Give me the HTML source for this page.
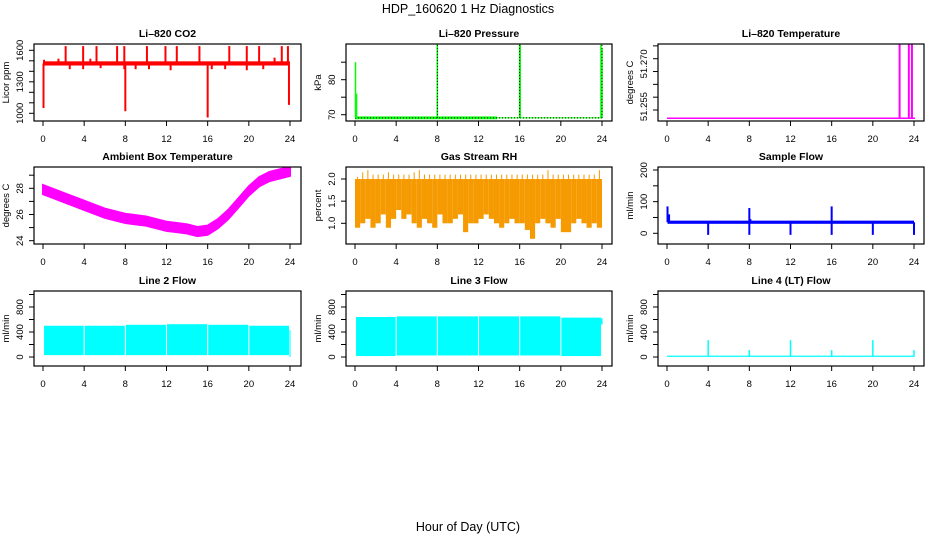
<!DOCTYPE html>
<html><head><meta charset="utf-8"><style>
html,body{margin:0;padding:0;background:#fff}
svg{display:block;font-family:"Liberation Sans",Arial,sans-serif}
</style></head><body>
<svg id="c" width="936" height="540" viewBox="0 0 936 540" xmlns="http://www.w3.org/2000/svg">
<text x="468" y="13" text-anchor="middle" font-size="12.5">HDP_160620  1 Hz Diagnostics</text>
<text x="468" y="531" text-anchor="middle" font-size="12.5">Hour of Day (UTC)</text>
</svg>
<script>
// ---- data ----
const hourTicks = [0,4,8,12,16,20,24];
// CO2
const co2BaseLow = 1455, co2BaseHigh = 1495;
const co2UpHours = [0.1,1.5,2.2,3.9,4.6,5.2,7.2,7.9,10.1,11.9,13.0,15.2,18.1,19.8,21.0,22.5,23.2,23.8];
const co2UpValues = [1510,1520,1640,1640,1520,1640,1640,1640,1640,1640,1640,1640,1640,1640,1640,1530,1640,1640];
const co2DownHours = [0.05,2.6,3.9,5.6,7.9,8.0,9.0,10.3,12.4,16.0,16.4,17.7,19.8,21.4,23.9];
const co2DownValues = [1050,1420,1420,1430,1420,1020,1420,1420,1410,960,1420,1420,1410,1420,1080];
// Pressure
const presBase = 69.1;
const presSpikeHours = [0.05,0.15,8.0,16.0,16.05,23.9,24.0];
const presSpikeValues = [85,76,90,90,90,90,89];
// Li-820 temperature
const tempBase = 51.2526;
const tempSpikeHours = [22.6,23.5,23.8];
const tempSpikeValues = [51.2775,51.2775,51.2775];
// Ambient box temperature (hourly centre)
const ambHours = [0,1,2,3,4,5,6,7,8,9,10,11,12,13,14,15,16,17,18,19,20,21,22,23,24];
const ambValues = [27.9,27.6,27.3,27.0,26.7,26.4,26.1,25.9,25.7,25.6,25.5,25.3,25.1,25.0,24.9,24.7,24.8,25.3,26.0,26.9,27.8,28.5,28.9,29.1,29.3];
const ambHalfWidth = 0.35;
// Gas stream RH (half-hour bins)
const rhLow = [0.9,1.0,1.1,0.9,1.0,1.2,0.9,1.1,1.3,1.1,1.2,1.0,0.9,1.1,1.0,0.9,1.2,1.0,1.0,1.1,1.2,0.8,1.0,1.0,1.1,1.2,1.1,1.0,0.9,1.0,1.1,1.0,1.0,0.85,0.65,1.0,1.1,1.0,0.9,1.1,0.8,0.8,1.0,1.1,1.0,0.9,1.0,0.9];
const rhHigh = [2.05,2.15,2.2,2.1,2.1,2.1,2.15,2.1,2.1,2.1,2.1,2.15,2.2,2.1,2.1,2.1,2.1,2.1,2.1,2.1,2.1,2.1,2.1,2.1,2.1,2.1,2.1,2.1,2.1,2.1,2.1,2.1,2.1,2.1,2.1,2.1,2.1,2.2,2.1,2.1,2.1,2.1,2.1,2.1,2.1,2.1,2.1,2.2];
// Sample flow
const sfLow = 30, sfHigh = 40;
const sfUpHours = [0.05,0.2,8.0,8.1,16.0];
const sfUpValues = [85,60,80,45,85];
const sfDownHours = [4,8,12,16,20,24];
const sfDownValues = [-5,-5,-5,-5,-5,-5];
// Line flows (4-hour segments)
const segStarts = [0.1,4.05,8.05,12.05,16.05,20.05];
const segEnds = [3.95,7.95,11.95,15.95,19.95,23.9];
const line2Top = [500,500,515,525,515,500];
const line2Low = [30,30,30,30,30,30];
const line3Top = [640,650,650,650,650,630];
const line3Low = [15,25,25,25,25,15];
const line4Base = 12;
const line4SpikeHours = [4,8,12,16,20,24];
const line4SpikeValues = [270,110,270,110,270,110];

// ---- drawing ----
const svg = document.getElementById('c');
const NS = 'http://www.w3.org/2000/svg';
function mk(tag, attrs, parent){
  const e = document.createElementNS(NS, tag);
  for (const k in attrs) e.setAttribute(k, attrs[k]);
  (parent||svg).appendChild(e);
  return e;
}
function panel(p){
  const g = mk('g', {});
  
  
  const sx = h => p.x0 + (h/24)*(p.x24 - p.x0);
  const sy = v => p.ya + (v - p.va)*(p.yb - p.ya)/(p.vb - p.va);
  p.sx = sx; p.sy = sy; p.g = g;
  const t = mk('text', {x:(p.L+p.R)/2, y:p.T-7, 'text-anchor':'middle', 'font-size':10.5, 'font-weight':'bold'}, g);
  t.textContent = p.title;
  
  
  const xa = mk('g', {}, g);
  
  
  mk('line', {x1:sx(0), x2:sx(24), y1:p.B, y2:p.B, stroke:'#000'}, xa);
  hourTicks.forEach(h => {
    mk('line', {x1:sx(h), x2:sx(h), y1:p.B, y2:p.B+5, stroke:'#000'}, xa);
    const l = mk('text', {x:sx(h), y:p.B+21, 'text-anchor':'middle', 'font-size':9.5}, xa);
    l.textContent = h;
    
    
  });
  const ya = mk('g', {}, g);
  
  
  const tmin = Math.min(...p.ticks.map(sy)), tmax = Math.max(...p.ticks.map(sy));
  mk('line', {x1:p.L, x2:p.L, y1:tmin, y2:tmax, stroke:'#000'}, ya);
  p.ticks.forEach(v => mk('line', {x1:p.L-5, x2:p.L, y1:sy(v), y2:sy(v), stroke:'#000'}, ya));
  p.labels.forEach((v,i) => {
    const yy = sy(v), xx = p.L - 11;
    const l = mk('text', {x:xx, y:yy, 'text-anchor':'middle', 'font-size':9.5, transform:`rotate(-90 ${xx} ${yy})`}, ya);
    l.textContent = p.labelText ? p.labelText[i] : v;
    
    
  });
  const yl = p.L - 25, ym = (p.T+p.B)/2;
  const yt = mk('text', {x:yl, y:ym, 'text-anchor':'middle', 'font-size':9.5, transform:`rotate(-90 ${yl} ${ym})`}, g);
  yt.textContent = p.ylab;
  
  
  const clip = 'clip' + p.name;
  const cp = mk('clipPath', {id:clip}, g);
  mk('rect', {x:p.L, y:p.T, width:p.R-p.L, height:p.B-p.T}, cp);
  p.plot = mk('g', {'clip-path':`url(#${clip})`}, g);
  
  
  const box = mk('rect', {x:p.L, y:p.T, width:p.R-p.L, height:p.B-p.T, fill:'none', stroke:'#000', 'stroke-width':1.2}, g);
  
  
  return p;
}
function vline(p, h, v1, v2, col, w, name){
  const l = mk('line', {x1:p.sx(h), x2:p.sx(h), y1:p.sy(v1), y2:p.sy(v2), stroke:col, 'stroke-width':w||1.5}, p.plot);
  
  
}
function band(p, h1, h2, lo, hi, col, name){
  const x1 = p.sx(h1), x2 = p.sx(h2), y1 = p.sy(hi), y2 = p.sy(lo);
  const r = mk('rect', {x:x1, y:Math.min(y1,y2), width:x2-x1, height:Math.abs(y2-y1), fill:col}, p.plot);
  
  
}

// Row 1
const p1 = panel({name:'co2-panel', title:'Li\u2013820 CO2', ylab:'Licor ppm', L:34,R:301,T:44,B:121, x0:43,x24:290, va:1000,ya:113.3,vb:1600,yb:50.3,
  ticks:[1000,1100,1200,1300,1400,1500,1600], labels:[1000,1300,1600]});
band(p1, 0, 24, co2BaseLow, co2BaseHigh, '#f00', 'co2-band');
co2UpHours.forEach((h,i) => vline(p1, h, 1475, co2UpValues[i], '#f00', 2, 'co2-spike'));
co2DownHours.forEach((h,i) => vline(p1, h, 1475, co2DownValues[i], '#f00', 2, 'co2-dip'));

const p2 = panel({name:'pressure-panel', title:'Li\u2013820 Pressure', ylab:'kPa', L:346,R:612,T:44,B:121, x0:355,x24:602, va:70,ya:114.7,vb:80,yb:79.7,
  ticks:[70,75,80,85], labels:[70,80]});
band(p2, 0, 13.8, presBase-0.4, presBase+0.4, '#0f0', 'pressure-band');
band(p2, 13.8, 24, presBase-0.15, presBase+0.15, '#0f0', 'pressure-band');
mk('line', {x1:p2.sx(0), x2:p2.sx(24), y1:p2.sy(presBase), y2:p2.sy(presBase), stroke:'#000', 'stroke-dasharray':'1,2'}, p2.plot);
presSpikeHours.forEach((h,i) => vline(p2, h, presBase, presSpikeValues[i], '#0f0', 1.5, 'pressure-spike'));
[8,16,24].forEach(h => mk('line', {x1:p2.sx(h), x2:p2.sx(h), y1:p2.sy(presBase), y2:p2.sy(90), stroke:'#000', 'stroke-dasharray':'1,2'}, p2.plot));

const p3 = panel({name:'li820-temperature-panel', title:'Li\u2013820 Temperature', ylab:'degrees C', L:658,R:924,T:44,B:121, x0:667,x24:914, va:51.255,ya:110,vb:51.27,yb:58.7,
  ticks:[51.255,51.25875,51.2625,51.26625,51.27,51.27375], labels:[51.256,51.2685], labelText:['51.255','51.270']});
mk('line', {x1:p3.sx(0), x2:p3.sx(24.1), y1:p3.sy(tempBase), y2:p3.sy(tempBase), stroke:'#f0f', 'stroke-width':1.5}, p3.plot);
tempSpikeHours.forEach((h,i) => vline(p3, h, tempBase, tempSpikeValues[i], '#f0f', 2, 'temperature-spike'));

// Row 2
const p4 = panel({name:'ambient-temperature-panel', title:'Ambient Box Temperature', ylab:'degrees C', L:34,R:301,T:167,B:244, x0:43,x24:290, va:24,ya:240.7,vb:28,yb:188.3,
  ticks:[24,25,26,27,28,29], labels:[24,26,28]});
(function(){
  const up = ambHours.map((h,i)=>`${p4.sx(h)},${p4.sy(ambValues[i]+ambHalfWidth)}`);
  const dn = ambHours.slice().reverse().map((h,j)=>{const i=ambHours.length-1-j;return `${p4.sx(h)},${p4.sy(ambValues[i]-ambHalfWidth)}`;});
  const poly = mk('polygon', {points:up.concat(dn).join(' '), fill:'#f0f', stroke:'#f0f', 'stroke-width':2}, p4.plot);
  
  
})();

const p5 = panel({name:'rh-panel', title:'Gas Stream RH', ylab:'percent', L:346,R:612,T:167,B:244, x0:355,x24:602, va:1.0,ya:223.3,vb:2.0,yb:179,
  ticks:[1.0,1.5,2.0], labels:[1.0,1.5,2.0], labelText:['1.0','1.5','2.0']});
rhLow.forEach((lo,i) => {
  band(p5, i*0.5, i*0.5+0.5, lo, 2.0, '#f59a00', 'rh-bin');
  vline(p5, i*0.5+0.25, 2.0, rhHigh[i], '#f59a00', 1, 'rh-high');
});

const p6 = panel({name:'sample-flow-panel', title:'Sample Flow', ylab:'ml/min', L:658,R:924,T:167,B:244, x0:667,x24:914, va:0,ya:233.3,vb:200,yb:170,
  ticks:[0,50,100,150,200], labels:[0,100,200]});
band(p6, 0.05, 24, sfLow, sfHigh, '#00f', 'sample-flow-band');
sfUpHours.forEach((h,i) => vline(p6, h, 35, sfUpValues[i], '#00f', 2, 'sample-flow-spike'));
sfDownHours.forEach((h,i) => vline(p6, h, 35, sfDownValues[i], '#00f', 2, 'sample-flow-dip'));

// Row 3
const flowTicks = [0,200,400,600,800,1000];
const p7 = panel({name:'line2-flow-panel', title:'Line 2 Flow', ylab:'ml/min', L:34,R:301,T:291,B:366, x0:43,x24:290, va:0,ya:357,vb:800,yb:307,
  ticks:flowTicks, labels:[0,400,800]});
segStarts.forEach((s,i) => band(p7, s, segEnds[i], line2Low[i], line2Top[i], '#0ff', 'line2-flow-segment'));
band(p7, 23.95, 24.05, 0, 430, '#0ff', 'line2-flow-end');

const p8 = panel({name:'line3-flow-panel', title:'Line 3 Flow', ylab:'ml/min', L:346,R:612,T:291,B:366, x0:355,x24:602, va:0,ya:357,vb:800,yb:307,
  ticks:flowTicks, labels:[0,400,800]});
segStarts.forEach((s,i) => band(p8, s, segEnds[i], line3Low[i], line3Top[i], '#0ff', 'line3-flow-segment'));
band(p8, 23.9, 24.05, 520, 620, '#0ff', 'line3-flow-end');

const p9 = panel({name:'line4-flow-panel', title:'Line 4 (LT) Flow', ylab:'ml/min', L:658,R:924,T:291,B:366, x0:667,x24:914, va:0,ya:357,vb:800,yb:307,
  ticks:flowTicks, labels:[0,400,800]});
band(p9, 0, 24.05, line4Base-10, line4Base+10, '#0ff', 'line4-flow-band');
line4SpikeHours.forEach((h,i) => vline(p9, h, line4Base, line4SpikeValues[i], '#0ff', 1.5, 'line4-flow-spike'));
</script>
</body></html>
